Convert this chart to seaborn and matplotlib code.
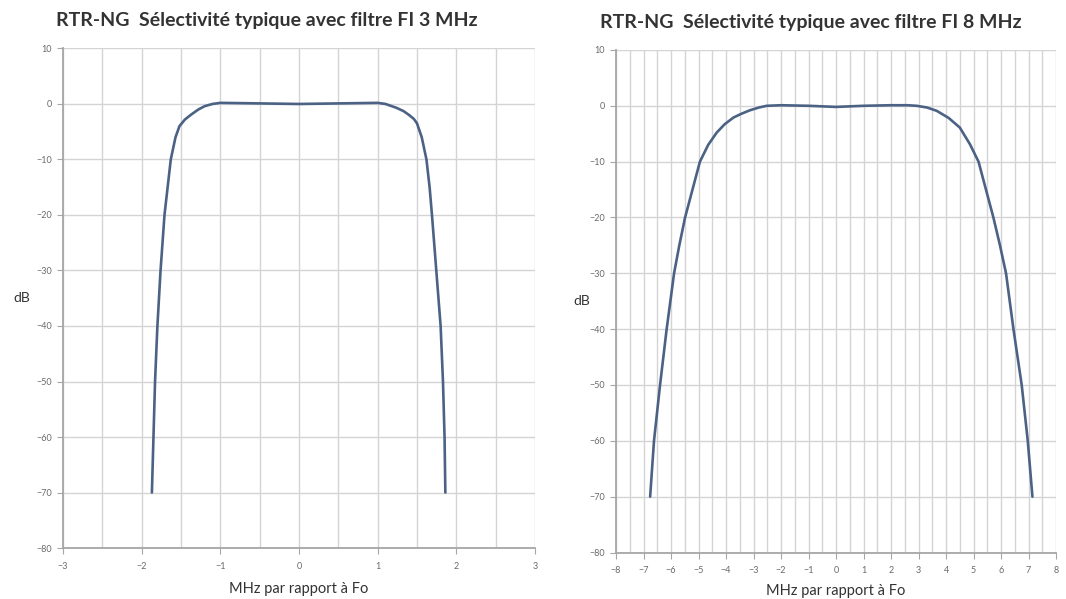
import matplotlib
matplotlib.use("Agg")
import matplotlib.pyplot as plt
from matplotlib.ticker import MultipleLocator
import seaborn as sns
import pandas as pd

# ---- data ----
title_3 = "RTR-NG  Sélectivité typique avec filtre FI 3 MHz"
title_8 = "RTR-NG  Sélectivité typique avec filtre FI 8 MHz"
xlabel = "MHz par rapport à Fo"
ylabel = "dB"

mhz_3 = [-1.87, -1.85, -1.83, -1.80, -1.76, -1.71, -1.67, -1.63, -1.57, -1.52,
         -1.45, -1.37, -1.28, -1.20, -1.10, -1.0, -0.5, 0.0, 0.5, 1.0,
         1.10, 1.24, 1.33, 1.40, 1.46, 1.50, 1.56, 1.62, 1.66, 1.69,
         1.745, 1.80, 1.83, 1.85, 1.86]
db_3 = [-70, -60, -50, -40, -30, -20, -15, -10, -6, -4,
        -2.8, -1.9, -1.0, -0.4, 0.0, 0.2, 0.1, 0.0, 0.1, 0.2,
        0.0, -0.7, -1.3, -2.0, -2.7, -3.5, -6.0, -10, -15, -20,
        -30, -40, -50, -60, -70]

mhz_8 = [-6.76, -6.62, -6.40, -6.16, -5.89, -5.70, -5.49, -5.22, -4.95, -4.65,
         -4.34, -4.05, -3.73, -3.43, -3.13, -2.80, -2.52, -2.0, -1.0, 0.0,
         1.0, 2.0, 2.6, 2.93, 3.30, 3.66, 4.10, 4.50, 4.87, 5.18,
         5.45, 5.72, 5.96, 6.18, 6.45, 6.75, 6.97, 7.14]
db_8 = [-70, -60, -50, -40, -30, -25, -20, -15, -10, -7,
        -4.8, -3.3, -2.1, -1.4, -0.8, -0.3, 0, 0.1, 0.0, -0.2,
        0.0, 0.1, 0.1, 0.0, -0.3, -0.9, -2.2, -3.9, -6.9, -10,
        -15, -20, -25, -30, -40, -50, -60, -70]

yticks = [-80, -70, -60, -50, -40, -30, -20, -10, 0, 10]
xticks_3 = [-3, -2, -1, 0, 1, 2, 3]
xticks_8 = list(range(-8, 9))

# ---- style ----
sns.set_theme(style="white")
plt.rcParams["font.family"] = ["Lato", "DejaVu Sans"]

line_color = "#4b6285"
grid_color = "#d4d4d4"
spine_color = "#a6a6a6"
tick_color = "#6a6a6a"

fig = plt.figure(figsize=(10.66, 5.99), dpi=100)
ax1 = fig.add_axes([0.0591, 0.0851, 0.4428, 0.834])
ax2 = fig.add_axes([0.5779, 0.0776, 0.4128, 0.839])

df3 = pd.DataFrame({"x": mhz_3, "y": db_3})
df8 = pd.DataFrame({"x": mhz_8, "y": db_8})

panels = [
    (ax1, df3, xticks_3, (-3, 3), title_3, 0.2505, 0.966, 8, 10),
    (ax2, df8, xticks_8, (-8, 8), title_8, 0.761, 0.963, 6, 5),
]

for ax, df, xt, xlim, title, tx, ty, lpad, ypad in panels:
    sns.lineplot(data=df, x="x", y="y", ax=ax, color=line_color,
                 linewidth=1.9, estimator=None, sort=False, zorder=3)
    ax.set_xlim(*xlim)
    ax.set_ylim(-80, 10)
    ax.set_xticks(xt)
    ax.set_yticks(yticks)
    ax.xaxis.set_minor_locator(MultipleLocator(0.5))
    ax.grid(True, which="both", axis="x", color=grid_color, linewidth=1.0, zorder=0)
    ax.grid(True, which="major", axis="y", color=grid_color, linewidth=1.0, zorder=0)
    ax.set_axisbelow(True)
    for s in ["top", "right"]:
        ax.spines[s].set_visible(False)
    for s in ["left", "bottom"]:
        ax.spines[s].set_color(spine_color)
        ax.spines[s].set_linewidth(1.3)
    ax.tick_params(axis="both", which="major", direction="out", length=4,
                   width=0.8, color=spine_color, labelsize=6.5,
                   labelcolor=tick_color, left=True, bottom=True, pad=4)
    ax.tick_params(axis="x", which="major", pad=6)
    ax.tick_params(axis="x", which="minor", length=0)
    ax.set_xlabel(xlabel, fontsize=10.5, color="#333333", labelpad=lpad)
    ax.set_ylabel(ylabel, fontsize=10, color="#333333", rotation=0,
                  labelpad=ypad, va="center")
    fig.text(tx, ty, title, ha="center", va="center", fontsize=14,
             fontweight="bold", color="#333333")

fig.savefig("out.png", dpi=100, facecolor="white")
